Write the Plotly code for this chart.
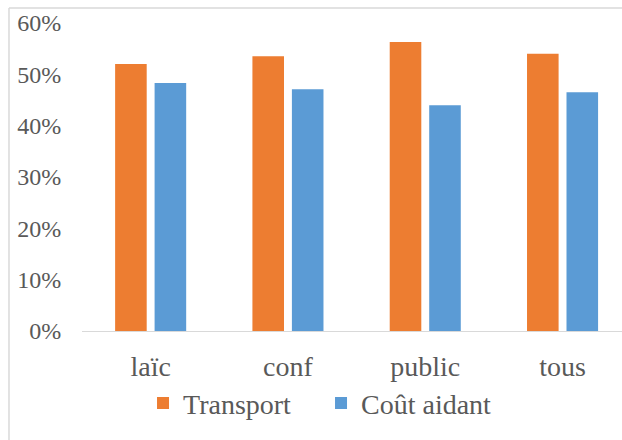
import plotly.graph_objects as go

# Data
categories = ["laïc", "conf", "public", "tous"]
transport = [0.520, 0.535, 0.563, 0.540]
cout_aidant = [0.483, 0.471, 0.440, 0.465]
y_ticks = [0, 0.1, 0.2, 0.3, 0.4, 0.5, 0.6]
y_tick_labels = ["0%", "10%", "20%", "30%", "40%", "50%", "60%"]

ORANGE = "#ED7D31"
BLUE = "#5B9BD5"
TEXT = "#595959"
GRID = "#d9d9d9"
FONT = "Liberation Serif, Times New Roman, serif"

fig = go.Figure()
fig.add_trace(go.Bar(name="Transport", x=categories, y=transport,
                     marker=dict(color=ORANGE, line=dict(width=0))))
fig.add_trace(go.Bar(name="Coût aidant", x=categories, y=cout_aidant,
                     marker=dict(color=BLUE, line=dict(width=0))))

# Chart-area frame (left and top edges)
frame = dict(type="line", xref="paper", yref="paper",
             line=dict(color=GRID, width=1.5), layer="below")
fig.add_shape(**frame, x0=-0.1352, x1=-0.1352, y0=1.0487, y1=-0.40)
fig.add_shape(**frame, x0=-0.1352, x1=1.05, y0=1.0487, y1=1.0487)

fig.update_layout(
    width=622, height=440,
    margin=dict(l=82, r=0, t=23, b=109),
    paper_bgcolor="white", plot_bgcolor="white",
    barmode="group", bargap=0.425, bargroupgap=0.2,
    font=dict(family=FONT, color=TEXT),
    showlegend=True,
    legend=dict(orientation="h", x=0.113, xanchor="left",
                y=-0.235, yanchor="middle",
                entrywidth=133, entrywidthmode="pixels",
                font=dict(size=28, family=FONT, color=TEXT),
                bgcolor="rgba(0,0,0,0)", traceorder="normal"),
    xaxis=dict(range=[-0.5, 3.433], showline=True, linecolor=GRID,
               linewidth=1, showgrid=False, zeroline=False,
               ticks="outside", ticklen=10, tickcolor="rgba(0,0,0,0)",
               tickfont=dict(size=28, family=FONT, color=TEXT)),
    yaxis=dict(range=[0, 0.6], tickvals=y_ticks, ticktext=y_tick_labels,
               showgrid=False, zeroline=False, showline=False,
               ticks="outside", ticklen=15, tickcolor="rgba(0,0,0,0)",
               tickfont=dict(size=24, family=FONT, color=TEXT)),
)

fig.write_html("out.html")
